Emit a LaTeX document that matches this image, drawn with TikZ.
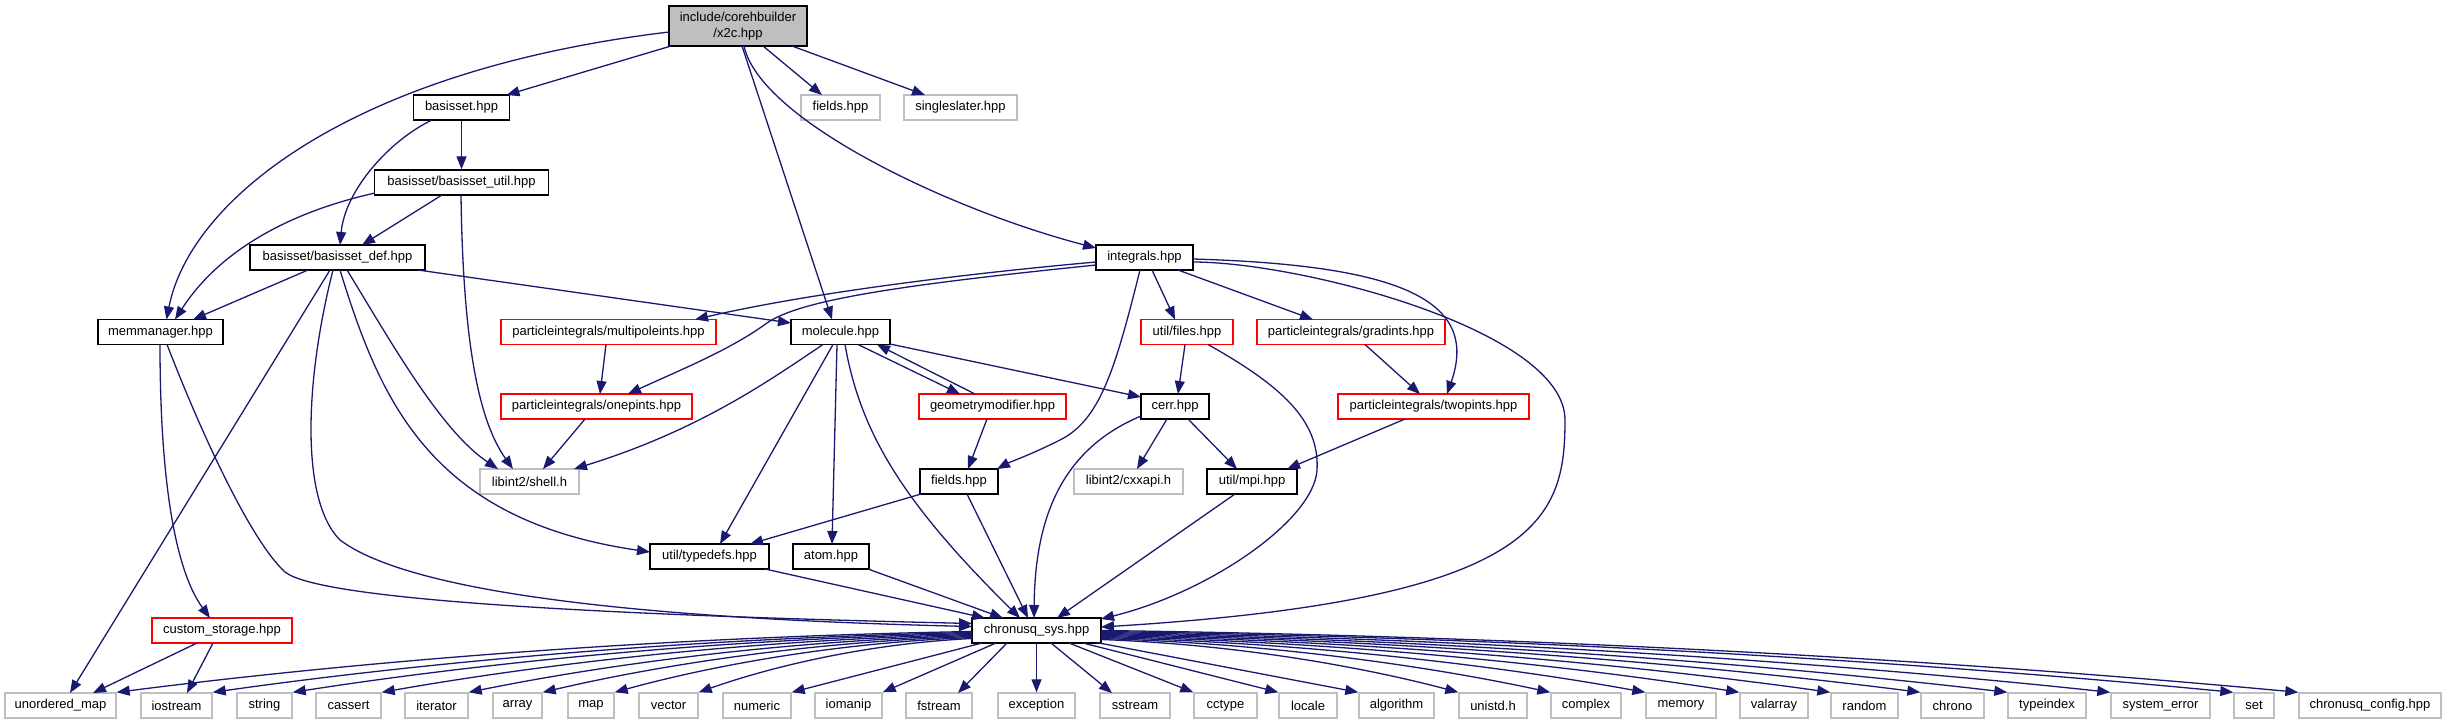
\documentclass[tikz,border=0pt]{standalone}
\usepackage{fontspec}
\newfontfamily\nf{Liberation Sans}
\usetikzlibrary{arrows.meta,calc}
\definecolor{mblue}{HTML}{191970}
\definecolor{lgray}{HTML}{BFBFBF}
\begin{document}
\begin{tikzpicture}[x=1pt,y=-1pt,
 nb/.style={draw=black,line width=1.4pt,minimum height=25pt,inner sep=0pt,font=\nf\fontsize{13pt}{16pt}\selectfont,text=black},
 ng/.style={nb,draw=lgray},
 nr/.style={nb,draw=red},
 e/.style={draw=mblue,line width=1.3pt,-{Triangle[length=13pt,width=10pt]}},
]
\useasboundingbox (0,0) rectangle (2447,724);
% ---- nodes
\node[nb,fill=lgray,minimum width=138pt,minimum height=40pt,align=center] (x2c) at (738,26) {include/corehbuilder\\/x2c.hpp};
\node[nb,minimum width=96pt] (bas) at (461.5,107.5) {basisset.hpp};
\node[ng,minimum width=79pt] (fieldsg) at (840.5,107.5) {fields.hpp};
\node[ng,minimum width=113pt] (single) at (960.5,107.5) {singleslater.hpp};
\node[nb,minimum width=174pt] (util) at (461.5,182.5) {basisset/basisset\_util.hpp};
\node[nb,minimum width=175pt] (def) at (337.5,257.5) {basisset/basisset\_def.hpp};
\node[nb,minimum width=97pt] (integ) at (1144.5,257.5) {integrals.hpp};
\node[nb,minimum width=125pt] (mem) at (160.5,332) {memmanager.hpp};
\node[nr,minimum width=215pt] (multi) at (608.5,332) {particleintegrals/multipoleints.hpp};
\node[nb,minimum width=99pt] (mol) at (840.5,332) {molecule.hpp};
\node[nr,minimum width=92pt] (files) at (1187,332) {util/files.hpp};
\node[nr,minimum width=188pt] (grad) at (1351,332) {particleintegrals/gradints.hpp};
\node[nr,minimum width=191pt] (onep) at (596.5,406.5) {particleintegrals/onepints.hpp};
\node[nr,minimum width=147pt] (geom) at (992.5,406.5) {geometrymodifier.hpp};
\node[nb,minimum width=68pt] (cerr) at (1175,406.5) {cerr.hpp};
\node[nr,minimum width=191pt] (twop) at (1433.5,406.5) {particleintegrals/twopints.hpp};
\node[ng,minimum width=99pt] (shell) at (529.5,481.5) {libint2/shell.h};
\node[nb,minimum width=78pt] (fields) at (959,481.5) {fields.hpp};
\node[ng,minimum width=109pt] (cxx) at (1128.5,481.5) {libint2/cxxapi.h};
\node[nb,minimum width=90pt] (mpi) at (1252,481.5) {util/mpi.hpp};
\node[nb,minimum width=119pt] (typ) at (709.5,556.5) {util/typedefs.hpp};
\node[nb,minimum width=76pt] (atom) at (831,556.5) {atom.hpp};
\node[nr,minimum width=140pt] (cust) at (222,630.5) {custom\_storage.hpp};
\node[nb,minimum width=129pt] (sys) at (1036.5,630.5) {chronusq\_sys.hpp};
\foreach \nm/\cx/\w/\t in {
 Lumap/60.5/111/unordered\_map, Liostream/176.5/71/iostream, Lstring/264.5/55/string,
 Lcassert/348.5/65/cassert, Literator/436.5/63/iterator, Larray/517.5/49/array,
 Lmap/591/46/map, Lvector/668.5/59/vector, Lnumeric/757/68/numeric,
 Liomanip/848.5/67/iomanip, Lfstream/939/66/fstream, Lexception/1036.5/77/exception,
 Lsstream/1135/70/sstream, Lcctype/1225.5/63/cctype, Llocale/1308/58/locale,
 Lalgorithm/1396.5/75/algorithm, Lunistd/1493/68/unistd.h, Lcomplex/1586/70/complex,
 Lmemory/1681/70/memory, Lvalarray/1774/68/valarray, Lrandom/1864.5/67/random,
 Lchrono/1952.5/63/chrono, Ltypeindex/2047/78/typeindex, Lsyserr/2160.5/99/system\_error,
 Lset/2254/40/set, Lconfig/2370/142/chronusq\_config.hpp}
 {\node[ng,minimum width=\w pt] (\nm) at (\cx,705.5) {\t};}
% ---- edges
\draw[e] ([shift={(-69,6)}]x2c.center) .. controls (350,70) and (190,200) .. ([shift={(6,-12.5)}]mem.center);
\draw[e] ([shift={(-67,20)}]x2c.center) -- ([shift={(45,-12.5)}]bas.center);
\draw[e] ([shift={(4,20)}]x2c.center) -- ([shift={(-8.5,-12.5)}]mol.center);
\draw[e] ([shift={(25,20)}]x2c.center) -- ([shift={(-18.5,-12.5)}]fieldsg.center);
\draw[e] ([shift={(54,20)}]x2c.center) -- ([shift={(-35.5,-12.5)}]single.center);
\draw[e] ([shift={(6,20)}]x2c.center) .. controls (760,120) and (950,210) .. ([shift={(-48.5,-9.5)}]integ.center);
\draw[e] (bas.south) -- (util.north);
\draw[e] ([shift={(-29.5,12.5)}]bas.center) .. controls (390,140) and (345,190) .. ([shift={(2.5,-12.5)}]def.center);
\draw[e] ([shift={(-19.5,12.5)}]util.center) -- ([shift={(24.5,-12.5)}]def.center);
\draw[e] ([shift={(-86.5,10.5)}]util.center) .. controls (290,212) and (220,250) .. ([shift={(14.5,-12.5)}]mem.center);
\draw[e] ([shift={(-0.5,12.5)}]util.center) .. controls (463,340) and (478,420) .. ([shift={(-16.5,-12.5)}]shell.center);
\draw[e] ([shift={(-29.5,12.5)}]def.center) -- ([shift={(32.5,-12.5)}]mem.center);
\draw[e] ([shift={(80.5,12.5)}]def.center) -- ([shift={(-49.5,-9)}]mol.center);
\draw[e] ([shift={(-7.5,12.5)}]def.center) -- ([shift={(9.5,-12.5)}]Lumap.center);
\draw[e] ([shift={(-4.5,12.5)}]def.center) .. controls (305,380) and (300,500) .. (340,540) .. controls (420,600) and (700,620) .. ([shift={(-64.5,-4)}]sys.center);
\draw[e] ([shift={(2.5,12.5)}]def.center) .. controls (380,400) and (430,520) .. ([shift={(-59.5,-4.5)}]typ.center);
\draw[e] ([shift={(9.5,12.5)}]def.center) .. controls (390,340) and (440,430) .. ([shift={(-31.5,-12.5)}]shell.center);
\draw[e] ([shift={(-0.5,12.5)}]mem.center) .. controls (160,480) and (175,570) .. ([shift={(-12,-12.5)}]cust.center);
\draw[e] ([shift={(6.5,12.5)}]mem.center) .. controls (200,430) and (250,540) .. (285,572) .. controls (320,600) and (600,615) .. ([shift={(-64.5,-7)}]sys.center);
\draw[e] ([shift={(-25,12.5)}]cust.center) -- ([shift={(32.5,-12.5)}]Lumap.center);
\draw[e] ([shift={(-9,12.5)}]cust.center) -- ([shift={(10.5,-12.5)}]Liostream.center);
\draw[e] ([shift={(-48.5,4.5)}]integ.center) .. controls (950,275) and (800,295) .. ([shift={(86.5,-12.5)}]multi.center);
\draw[e] ([shift={(-48.5,7.5)}]integ.center) .. controls (900,285) and (800,300) .. (767,323) .. controls (730,350) and (680,370) .. ([shift={(31.5,-12.5)}]onep.center);
\draw[e] ([shift={(-4.5,12.5)}]integ.center) .. controls (1115,370) and (1100,420) .. (1060,440) .. controls (1030,455) and (1010,462) .. ([shift={(38,-12.5)}]fields.center);
\draw[e] ([shift={(7.5,12.5)}]integ.center) -- ([shift={(-12,-12.5)}]files.center);
\draw[e] ([shift={(33.5,12.5)}]integ.center) -- ([shift={(-38,-12.5)}]grad.center);
\draw[e] ([shift={(48.5,1.5)}]integ.center) .. controls (1400,265) and (1480,300) .. ([shift={(13.5,-12.5)}]twop.center);
\draw[e] ([shift={(48.5,4.5)}]integ.center) .. controls (1300,262) and (1565,330) .. (1565,420) .. controls (1565,520) and (1540,600) .. ([shift={(64.5,-3.5)}]sys.center);
\draw[e] ([shift={(-2.5,12.5)}]multi.center) -- ([shift={(3.5,-12.5)}]onep.center);
\draw[e] ([shift={(-11.5,12.5)}]onep.center) -- ([shift={(13.5,-12.5)}]shell.center);
\draw[e] ([shift={(-17.5,12.5)}]mol.center) .. controls (770,380) and (700,430) .. ([shift={(44.5,-12.5)}]shell.center);
\draw[e] ([shift={(-7.5,12.5)}]mol.center) -- ([shift={(10.5,-12.5)}]typ.center);
\draw[e] ([shift={(-3.5,12.5)}]mol.center) -- ([shift={(1,-12.5)}]atom.center);
\draw[e] ([shift={(4.5,12.5)}]mol.center) .. controls (860,430) and (900,500) .. ([shift={(-16.5,-12.5)}]sys.center);
\draw[e] ([shift={(17.5,12.5)}]mol.center) -- ([shift={(-32.5,-12.5)}]geom.center);
\draw[e] ([shift={(-17.5,-12.5)}]geom.center) -- ([shift={(36.5,12.5)}]mol.center);
\draw[e] ([shift={(49.5,12)}]mol.center) -- ([shift={(-34,-9.5)}]cerr.center);
\draw[e] ([shift={(-5.5,12.5)}]geom.center) -- ([shift={(9,-12.5)}]fields.center);
\draw[e] ([shift={(-38,12.5)}]fields.center) -- ([shift={(40.5,-12.5)}]typ.center);
\draw[e] ([shift={(8,12.5)}]fields.center) -- ([shift={(-8.5,-12.5)}]sys.center);
\draw[e] ([shift={(55.5,12.5)}]typ.center) -- ([shift={(-51.5,-12.5)}]sys.center);
\draw[e] ([shift={(37,12.5)}]atom.center) -- ([shift={(-33.5,-12.5)}]sys.center);
\draw[e] ([shift={(-2,12.5)}]files.center) -- ([shift={(3,-12.5)}]cerr.center);
\draw[e] ([shift={(21,12.5)}]files.center) .. controls (1280,385) and (1320,420) .. (1317,470) .. controls (1314,520) and (1210,592) .. ([shift={(64.5,-11.5)}]sys.center);
\draw[e] ([shift={(14,12.5)}]grad.center) -- ([shift={(-13.5,-12.5)}]twop.center);
\draw[e] ([shift={(-8,12.5)}]cerr.center) -- ([shift={(8.5,-12.5)}]cxx.center);
\draw[e] ([shift={(13,12.5)}]cerr.center) -- ([shift={(-15,-12.5)}]mpi.center);
\draw[e] ([shift={(-34,9.5)}]cerr.center) .. controls (1060,450) and (1035,520) .. ([shift={(-2.5,-12.5)}]sys.center);
\draw[e] ([shift={(-28.5,12.5)}]twop.center) -- ([shift={(35,-12.5)}]mpi.center);
\draw[e] ([shift={(-17,12.5)}]mpi.center) -- ([shift={(20.5,-12.5)}]sys.center);
% ---- chronusq_sys fan
\foreach \nm/\dy in {Lumap/1,Liostream/2,Lstring/3,Lcassert/4,Literator/5,Larray/6,Lmap/7,Lvector/8}
 {\draw[e] let \p1=([shift={(-64.5,\dy)}]sys.center), \p2=(\nm.north east) in
   (\p1) .. controls ({\x1+0.4*(\x2-\x1)},{\y1+0.1*(\y2-\y1)}) and ({\x1+0.75*(\x2-\x1)},{\y1+0.55*(\y2-\y1)}) .. (\p2);}
\foreach \nm/\dy in {Lconfig/0,Lset/1,Lsyserr/2,Ltypeindex/3,Lchrono/4,Lrandom/5,Lvalarray/6,Lmemory/7,Lcomplex/8,Lunistd/9}
 {\draw[e] let \p1=([shift={(64.5,\dy)}]sys.center), \p2=(\nm.north west) in
   (\p1) .. controls ({\x1+0.4*(\x2-\x1)},{\y1+0.1*(\y2-\y1)}) and ({\x1+0.75*(\x2-\x1)},{\y1+0.55*(\y2-\y1)}) .. (\p2);}
\draw[e] ([shift={(-54.5,12.5)}]sys.center) -- (Lnumeric.north east);
\draw[e] ([shift={(-40.5,12.5)}]sys.center) -- (Liomanip.north east);
\draw[e] ([shift={(-29.5,12.5)}]sys.center) -- ([shift={(19,-12.5)}]Lfstream.center);
\draw[e] (sys.south) -- (Lexception.north);
\draw[e] ([shift={(14.5,12.5)}]sys.center) -- ([shift={(-23,-12.5)}]Lsstream.center);
\draw[e] ([shift={(32.5,12.5)}]sys.center) -- (Lcctype.north west);
\draw[e] ([shift={(46.5,12.5)}]sys.center) -- (Llocale.north west);
\draw[e] ([shift={(60,12)}]sys.center) -- (Lalgorithm.north west);
\end{tikzpicture}
\end{document}
